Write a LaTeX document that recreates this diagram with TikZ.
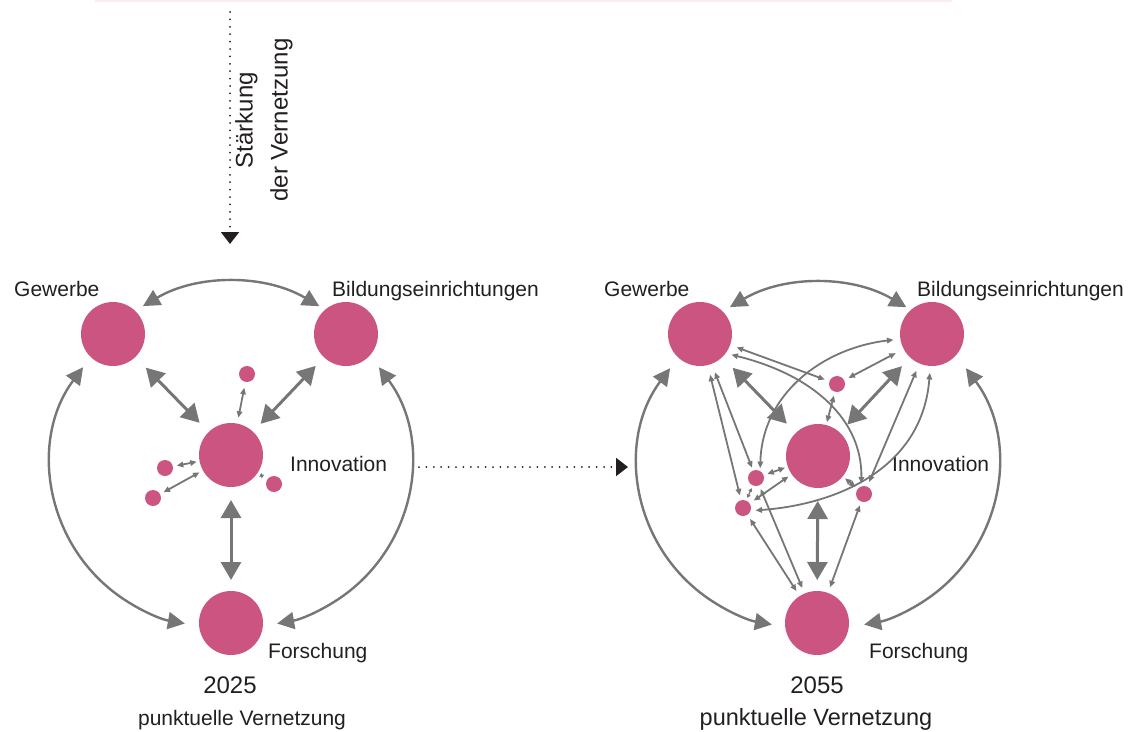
\documentclass[tikz,border=0pt]{standalone}
\usepackage{fontspec}
\setmainfont{Liberation Sans}
\usetikzlibrary{arrows.meta,calc}
\definecolor{rose}{RGB}{203,84,128}
\definecolor{linkgray}{RGB}{118,118,118}
\definecolor{ink}{RGB}{35,31,32}
\definecolor{faintrose}{RGB}{252,236,241}
\begin{document}
\begin{tikzpicture}[x=1pt,y=-1pt,
  hub/.style={circle,fill=rose,minimum size=64pt,inner sep=0pt,outer sep=0pt},
  satellite/.style={circle,fill=rose,minimum size=16pt,inner sep=0pt,outer sep=0pt},
  lbl/.style={text=ink,font=\fontsize{21}{25}\selectfont,inner sep=0pt},
  captxt/.style={text=ink,font=\fontsize{21}{25}\selectfont,inner sep=0pt},
  yeartxt/.style={text=ink,font=\fontsize{24}{28}\selectfont,inner sep=0pt},
  strong/.style={draw=linkgray,line width=3pt,{Triangle[length=18pt,width=20pt]}-{Triangle[length=18pt,width=20pt]}},
  ring/.style={draw=linkgray,line width=2.4pt,{Triangle[length=17pt,width=17pt]}-{Triangle[length=17pt,width=17pt]}},
  weak/.style={draw=linkgray,line width=1.8pt,{Triangle[length=6.5pt,width=5.5pt]}-{Triangle[length=6.5pt,width=5.5pt]}},
  minor/.style={draw=linkgray,line width=1.3pt,{Triangle[length=3.5pt,width=4pt]}-{Triangle[length=3.5pt,width=4pt]}},
  trail/.style={draw=ink,line width=2pt,line cap=round,dash pattern=on 0pt off 7.4pt},
  ]
\useasboundingbox (0,0) rectangle (1137,731);
\draw[faintrose,line width=1.5pt] (95,0.75) -- (952,0.75);

% ---------- direction arrows ----------
\coordinate (vtop) at (230,12);
\coordinate (vtip) at (230,244);
\draw[trail,-{Triangle[length=12pt,width=18pt,fill=ink]}] (vtop) -- (vtip);
\node[captxt,rotate=90,align=center,font=\fontsize{24}{35}\selectfont] (strk) at (264,120) {Stärkung\\der Vernetzung};
\coordinate (hstart) at (419,467);
\coordinate (htip) at (628,467);
\draw[trail,-{Triangle[length=12pt,width=18pt,fill=ink]}] (hstart) -- (htip);

% ---------- 2025 ----------
\node[hub] (g1) at (113,334) {};
\node[hub] (b1) at (346,334) {};
\node[hub] (i1) at (231,455) {};
\node[hub] (f1) at (231,623) {};
\node[satellite] (sa) at (247,374) {};
\node[satellite] (sb) at (165,468) {};
\node[satellite] (sc) at (153,498) {};
\node[satellite] (sd) at (274,484) {};

\node[lbl,anchor=base west] (lg1) at (14,296) {Gewerbe};
\node[lbl,anchor=base west] (lb1) at (332,296) {Bildungseinrichtungen};
\node[lbl,anchor=base west] (li1) at (290,471) {Innovation};
\node[lbl,anchor=base west] (lf1) at (268,658) {Forschung};
\node[yeartxt,anchor=base] (y1) at (230,693) {2025};
\node[captxt,anchor=base] (c1) at (242,725) {punktuelle Vernetzung};

\draw[ring] ($(i1)+(-18,9)+(216.7:162)$) arc[start angle=216.7,end angle=100,radius=162];
\draw[ring] ($(i1)+(18,9)+(-36.7:162)$) arc[start angle=-36.7,end angle=80,radius=162];
\draw[ring] ($(i1)+(239.4:173)$) arc[start angle=239.4,end angle=300.7,radius=173];

\draw[strong,shorten <=15pt,shorten >=13pt] (g1) -- (i1);
\draw[strong,shorten <=12pt,shorten >=11pt] (b1) -- (i1);
\draw[strong,shorten <=13pt,shorten >=11pt] (i1) -- (f1);

\draw[weak,shorten <=6pt,shorten >=6pt] (sa) -- (i1);
\draw[weak,shorten <=4pt,shorten >=3pt] (sb) -- (i1);
\draw[weak,shorten <=4pt,shorten >=4pt] (sc) -- (i1);
\draw[minor,shorten <=3pt,shorten >=5pt] (i1) -- (sd);

% ---------- 2055 ----------
\node[hub] (g2) at (700,334) {};
\node[hub] (b2) at (932,334) {};
\node[hub] (i2) at (818,456) {};
\node[hub] (f2) at (817,623) {};
\node[satellite] (ta) at (837,384) {};
\node[satellite] (tb) at (756,478) {};
\node[satellite] (tc) at (743,508) {};
\node[satellite] (td) at (864,494) {};

\node[lbl,anchor=base west] (lg2) at (604,296) {Gewerbe};
\node[lbl,anchor=base west] (lb2) at (917,296) {Bildungseinrichtungen};
\node[lbl,anchor=base west] (li2) at (892,471) {Innovation};
\node[lbl,anchor=base west] (lf2) at (869,658) {Forschung};
\node[yeartxt,anchor=base] (y2) at (817,693) {2055};
\node[captxt,anchor=base,font=\fontsize{23.5}{28}\selectfont] (c2) at (816,725) {punktuelle Vernetzung};

\draw[ring] ($(i2)+(-18,9)+(216.7:162)$) arc[start angle=216.7,end angle=100,radius=162];
\draw[ring] ($(i2)+(18,9)+(-36.7:162)$) arc[start angle=-36.7,end angle=80,radius=162];
\draw[ring] ($(i2)+(239.4:173)$) arc[start angle=239.4,end angle=300.7,radius=173];

\draw[strong,shorten <=15pt,shorten >=13pt] (g2) -- (i2);
\draw[strong,shorten <=12pt,shorten >=11pt] (b2) -- (i2);
\draw[strong,shorten <=13pt,shorten >=11pt] (i2) -- (f2);

% straight links of the small hubs
\draw[weak,shorten <=7pt,shorten >=5pt] (g2) -- (ta);
\draw[weak,shorten <=9pt,shorten >=5pt] (b2) -- (ta);
\draw[weak,shorten <=4pt,shorten >=3pt] (ta) -- (i2);
\draw[weak,shorten <=9pt,shorten >=3pt] (g2) -- (tb);
\draw[weak,shorten <=10pt,shorten >=5pt] (g2) -- (tc);
\draw[weak,shorten <=6pt,shorten >=5pt] (f2) -- (tc);
\draw[weak,shorten <=6pt,shorten >=4pt] (f2) -- (tb);
\draw[weak,shorten <=6pt,shorten >=4pt] (f2) -- (td);
\draw[weak,shorten <=8pt,shorten >=5pt] (b2) -- (td);
\draw[weak,shorten <=4pt,shorten >=3pt] (tb) -- (i2);
\draw[weak,shorten <=5pt,shorten >=4pt] (tc) -- (i2);
\draw[weak,shorten <=3pt,shorten >=3pt] (i2) -- (td);
\draw[minor,shorten <=3pt,shorten >=3pt] (tc) -- (tb);

% curved links
\draw[weak,shorten <=6pt,shorten >=3pt] (g2.-37) .. controls +(89,22) and +(1,-66) .. (td.110);
\draw[weak,shorten <=7pt,shorten >=3pt] (b2.189) .. controls +(-77,9) and +(2,-78) .. (tb.59);
\draw[weak,shorten <=7pt,shorten >=5pt] (b2.267) .. controls +(-8,104) and +(84,-6) .. (tc.-20);
\end{tikzpicture}
\end{document}
